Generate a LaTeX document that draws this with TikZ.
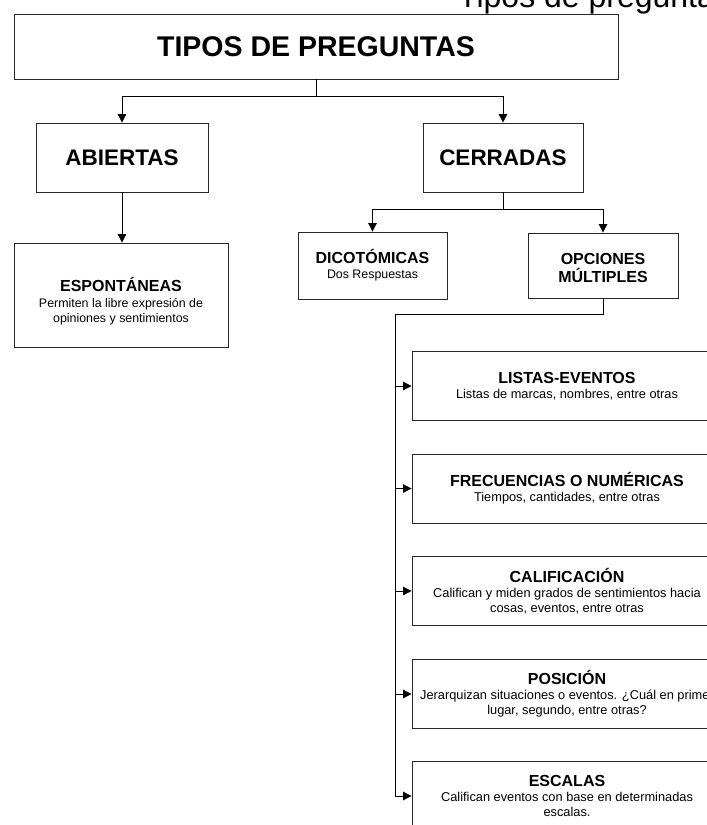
\documentclass[tikz,border=0pt]{standalone}
\usepackage{fontspec}
\setmainfont{Liberation Sans}
\usetikzlibrary{arrows.meta}
\tikzset{
  box/.style={draw=black!85, line width=0.9pt, rectangle, align=center, inner sep=0pt, fill=white},
  conn/.style={line width=1pt, black},
  arr/.style={conn, -{Triangle[length=8.5pt,width=8.5pt]}},
  upper/.style={box, font=\fontsize{12.4}{15}\selectfont},
  plaintext/.style={align=center, inner sep=0pt, font=\fontsize{12.4}{15}\selectfont},
  lower/.style={box, minimum width=310pt, minimum height=69pt, font=\fontsize{12.8}{15}\selectfont},
}
\newcommand{\ttl}[2]{{\bfseries\fontsize{#1}{#1}\selectfont #2}}
\begin{document}
\begin{tikzpicture}[x=1pt,y=-1pt]
\useasboundingbox (0,0) rectangle (707,825);
\clip (0,0) rectangle (707,825);
\fill[white] (0,0) rectangle (707,825);

\node[anchor=base west, inner sep=0pt, font=\fontsize{32}{32}\selectfont] (hdr) at (458,7) {Tipos de preguntas};

\node[box, minimum width=604pt, minimum height=65pt, font=\bfseries\fontsize{28.5}{30}\selectfont] (top) at (316,46.5) {TIPOS DE PREGUNTAS};

\node[box, minimum width=172pt, minimum height=69pt, font=\bfseries\fontsize{22.5}{25}\selectfont] (abi) at (122,157.5) {ABIERTAS};
\node[box, minimum width=160pt, minimum height=69pt, font=\bfseries\fontsize{22.5}{25}\selectfont] (cer) at (503,157.5) {CERRADAS};

\node[upper, minimum width=214pt, minimum height=104pt] (esp) at (121,295) {};
\node[plaintext] (espt) at (121,301) {\ttl{16}{ESPONTÁNEAS}\\[1pt]Permiten la libre expresión de\\opiniones y sentimientos};
\node[upper, minimum width=149pt, minimum height=67pt] (dic) at (372.5,265.5) {\ttl{16}{DICOTÓMICAS}\\Dos Respuestas};
\node[upper, minimum width=150pt, minimum height=65pt] (opc) at (603,265.5) {};
\node[plaintext] (opct) at (603,268) {\ttl{16}{OPCIONES}\\[3pt]\ttl{16}{MÚLTIPLES}};

\node[lower] (lis) at (567,386) {\ttl{16}{LISTAS-EVENTOS}\\Listas de marcas, nombres, entre otras};
\node[lower] (fre) at (567,488.5) {\ttl{16}{FRECUENCIAS O NUMÉRICAS}\\Tiempos, cantidades, entre otras};
\node[lower] (cal) at (567,591) {\ttl{16}{CALIFICACIÓN}\\Califican y miden grados de sentimientos hacia\\cosas, eventos, entre otras};
\node[lower] (pos) at (567,694) {\ttl{16}{POSICIÓN}\\Jerarquizan situaciones o eventos. ¿Cuál en primer\\lugar, segundo, entre otras?};
\node[lower] (esc) at (567,796) {\ttl{16}{ESCALAS}\\Califican eventos con base en determinadas\\escalas.};

\coordinate (j1) at (316,96);
\draw[conn] (top.south) -- (j1);
\draw[arr] (j1) -| (abi.north);
\draw[arr] (j1) -| (cer.north);

\draw[arr] (abi.south) -- (abi.south |- esp.north);

\coordinate (j2) at (503,209);
\draw[conn] (cer.south) -- (j2);
\draw[arr] (j2) -| (dic.north);
\draw[arr] (j2) -| (opc.north);

\coordinate (j3) at (395,314);
\draw[arr] (opc.south) |- (j3) |- (esc.west);
\draw[arr] (j3 |- lis.west) -- (lis.west);
\draw[arr] (j3 |- fre.west) -- (fre.west);
\draw[arr] (j3 |- cal.west) -- (cal.west);
\draw[arr] (j3 |- pos.west) -- (pos.west);
\end{tikzpicture}
\end{document}
